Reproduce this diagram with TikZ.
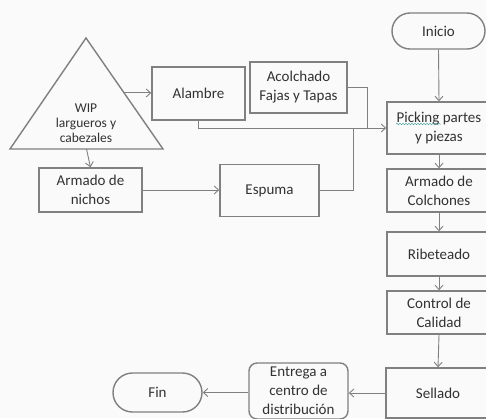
\documentclass[tikz,border=0pt]{standalone}
\usepackage{fontspec}
\setmainfont{Carlito}
\usetikzlibrary{arrows.meta,calc,decorations.pathmorphing}
\definecolor{edge}{RGB}{128,128,128}
\definecolor{ink}{RGB}{50,50,50}
\definecolor{paper}{RGB}{250,250,250}
\begin{document}
\begin{tikzpicture}[x=1pt,y=-1pt,
  font=\fontsize{15}{19}\selectfont, text=ink,
  box/.style={draw=edge,line width=1.4pt,rectangle,align=center,inner sep=0pt},
  term/.style={box,rounded corners=#1},
  link/.style={draw=edge,line width=0.9pt},
  arr/.style={link,-{Straight Barb[length=4.5pt,width=8pt]}}]
  \clip (0,0) rectangle (486,418);
  \fill[paper] (0,0) rectangle (486,418);

  % stock triangle
  \coordinate (apex) at (86,38);
  \coordinate (bL) at (10,149);
  \coordinate (bR) at (163,149);
  \draw[edge,line width=1.4pt,line join=miter] (apex) -- (bR) -- (bL) -- cycle;
  \node[align=center,font=\fontsize{13.5}{15}\selectfont] (wip) at (86,123)
    {WIP\\largueros y\\cabezales};

  % feeder processes
  \node[box,minimum width=93pt,minimum height=53pt] (alambre) at (198.5,93.5) {Alambre};
  \node[box,minimum width=97pt,minimum height=51pt] (acolchado) at (298.5,87.5) {Acolchado\\Fajas y Tapas};
  \node[box,minimum width=103pt,minimum height=44pt] (nichos) at (90.5,190) {Armado de\\nichos};
  \node[box,minimum width=99pt,minimum height=52pt] (espuma) at (269.5,190.5) {Espuma};

  % main line
  \node[term=18pt,minimum width=93pt,minimum height=36pt] (inicio) at (438.5,31) {Inicio};
  \node[box,minimum width=104pt,minimum height=52pt] (picking) at (439,128) {Picking partes\\y piezas};
  \node[box,minimum width=104pt,minimum height=43pt] (colchones) at (439,190.5) {Armado de\\Colchones};
  \node[box,minimum width=104pt,minimum height=44pt] (ribeteado) at (439,254) {Ribeteado};
  \node[box,minimum width=104pt,minimum height=43pt] (calidad) at (439,312.5) {Control de\\Calidad};
  \node[box,minimum width=104pt,minimum height=50pt] (sellado) at (438,393) {Sellado};
  \node[term=8pt,minimum width=99pt,minimum height=56pt] (entrega) at (298.5,391) {Entrega a\\centro de\\distribución};
  \node[term=19.5pt,minimum width=89pt,minimum height=39pt] (fin) at (157.5,392.5) {Fin};

  % spell-check squiggle under the first word
  \draw[edge!70!cyan,line width=0.5pt,decorate,decoration={snake,amplitude=0.8pt,segment length=3pt}]
    ($(picking.center)+(-43,-4)$) -- ($(picking.center)+(2,-4)$);

  % connectors
  \coordinate (tri) at ($(apex)!0.495!(bR)$);
  \draw[arr] (tri) -- (tri -| alambre.west);
  \draw[arr] ($(bL)!0.5!(bR)$) -- (nichos.north);
  \draw[arr] (nichos.east) -- (nichos.east -| espuma.west);

  \coordinate (jA) at (367,128);
  \coordinate (jE) at (353,128);
  \draw[arr] (alambre.south) |- (picking.west);
  \draw[link] (acolchado.east) -| (jA);
  \draw[link] (espuma.east) -| (jE);

  \draw[arr] (inicio.south) -- (picking.north);
  \draw[arr] (picking.south) -- (colchones.north);
  \draw[arr] (colchones.south) -- (ribeteado.north);
  \draw[arr] (ribeteado.south) -- (calidad.north);
  \draw[arr] (calidad.south) -- (sellado.north);
  \draw[arr] (sellado.west) -- (sellado.west -| entrega.east);
  \draw[arr] (fin.east -| entrega.west) -- (fin.east);
\end{tikzpicture}
\end{document}
